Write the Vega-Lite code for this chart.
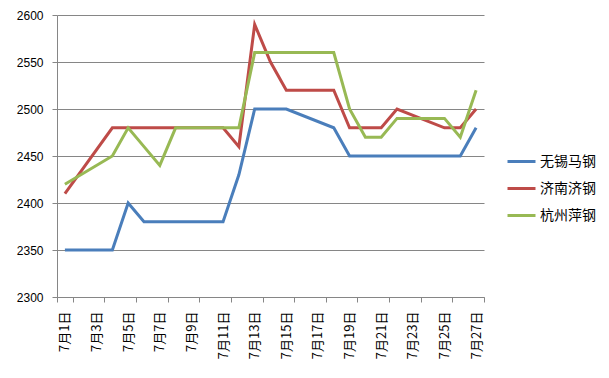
{
  "$schema": "https://vega.github.io/schema/vega-lite/v6.json",
  "width": 427,
  "height": 282,
  "autosize": "none",
  "padding": {"left": 57, "top": 15, "right": 125, "bottom": 81},
  "background": "white",
  "config": {"view": {"stroke": null}},
  "data": {"values": [
    {"date": "7月1日", "s": "无锡马钢", "v": 2350},
    {"date": "7月4日", "s": "无锡马钢", "v": 2350},
    {"date": "7月5日", "s": "无锡马钢", "v": 2400},
    {"date": "7月6日", "s": "无锡马钢", "v": 2380},
    {"date": "7月7日", "s": "无锡马钢", "v": 2380},
    {"date": "7月8日", "s": "无锡马钢", "v": 2380},
    {"date": "7月11日", "s": "无锡马钢", "v": 2380},
    {"date": "7月12日", "s": "无锡马钢", "v": 2430},
    {"date": "7月13日", "s": "无锡马钢", "v": 2500},
    {"date": "7月14日", "s": "无锡马钢", "v": 2500},
    {"date": "7月15日", "s": "无锡马钢", "v": 2500},
    {"date": "7月18日", "s": "无锡马钢", "v": 2480},
    {"date": "7月19日", "s": "无锡马钢", "v": 2450},
    {"date": "7月20日", "s": "无锡马钢", "v": 2450},
    {"date": "7月21日", "s": "无锡马钢", "v": 2450},
    {"date": "7月22日", "s": "无锡马钢", "v": 2450},
    {"date": "7月25日", "s": "无锡马钢", "v": 2450},
    {"date": "7月26日", "s": "无锡马钢", "v": 2450},
    {"date": "7月27日", "s": "无锡马钢", "v": 2480},
    {"date": "7月1日", "s": "济南济钢", "v": 2410},
    {"date": "7月4日", "s": "济南济钢", "v": 2480},
    {"date": "7月5日", "s": "济南济钢", "v": 2480},
    {"date": "7月6日", "s": "济南济钢", "v": 2480},
    {"date": "7月7日", "s": "济南济钢", "v": 2480},
    {"date": "7月8日", "s": "济南济钢", "v": 2480},
    {"date": "7月11日", "s": "济南济钢", "v": 2480},
    {"date": "7月12日", "s": "济南济钢", "v": 2460},
    {"date": "7月13日", "s": "济南济钢", "v": 2590},
    {"date": "7月14日", "s": "济南济钢", "v": 2550},
    {"date": "7月15日", "s": "济南济钢", "v": 2520},
    {"date": "7月18日", "s": "济南济钢", "v": 2520},
    {"date": "7月19日", "s": "济南济钢", "v": 2480},
    {"date": "7月20日", "s": "济南济钢", "v": 2480},
    {"date": "7月21日", "s": "济南济钢", "v": 2480},
    {"date": "7月22日", "s": "济南济钢", "v": 2500},
    {"date": "7月25日", "s": "济南济钢", "v": 2480},
    {"date": "7月26日", "s": "济南济钢", "v": 2480},
    {"date": "7月27日", "s": "济南济钢", "v": 2500},
    {"date": "7月1日", "s": "杭州萍钢", "v": 2420},
    {"date": "7月4日", "s": "杭州萍钢", "v": 2450},
    {"date": "7月5日", "s": "杭州萍钢", "v": 2480},
    {"date": "7月6日", "s": "杭州萍钢", "v": 2460},
    {"date": "7月7日", "s": "杭州萍钢", "v": 2440},
    {"date": "7月8日", "s": "杭州萍钢", "v": 2480},
    {"date": "7月11日", "s": "杭州萍钢", "v": 2480},
    {"date": "7月12日", "s": "杭州萍钢", "v": 2480},
    {"date": "7月13日", "s": "杭州萍钢", "v": 2560},
    {"date": "7月14日", "s": "杭州萍钢", "v": 2560},
    {"date": "7月15日", "s": "杭州萍钢", "v": 2560},
    {"date": "7月18日", "s": "杭州萍钢", "v": 2560},
    {"date": "7月19日", "s": "杭州萍钢", "v": 2500},
    {"date": "7月20日", "s": "杭州萍钢", "v": 2470},
    {"date": "7月21日", "s": "杭州萍钢", "v": 2470},
    {"date": "7月22日", "s": "杭州萍钢", "v": 2490},
    {"date": "7月25日", "s": "杭州萍钢", "v": 2490},
    {"date": "7月26日", "s": "杭州萍钢", "v": 2470},
    {"date": "7月27日", "s": "杭州萍钢", "v": 2520}
  ]},
  "mark": {"type": "line", "strokeWidth": 3},
  "encoding": {
    "x": {
      "field": "date", "type": "ordinal", "bandPosition": 0.5,
      "scale": {"type": "band", "paddingInner": 0, "paddingOuter": 0,
        "domain": ["7月1日","7月2日","7月3日","7月4日","7月5日","7月6日","7月7日","7月8日","7月9日","7月10日","7月11日","7月12日","7月13日","7月14日","7月15日","7月16日","7月17日","7月18日","7月19日","7月20日","7月21日","7月22日","7月23日","7月24日","7月25日","7月26日","7月27日"]},
      "axis": {
        "title": null,
        "values": ["7月1日","7月3日","7月5日","7月7日","7月9日","7月11日","7月13日","7月15日","7月17日","7月19日","7月21日","7月23日","7月25日","7月27日"],
        "tickBand": "extent",
        "labelAngle": -90,
        "labelFont": "Noto Sans CJK SC",
        "labelFontSize": 13,
        "labelColor": "#000000",
        "labelPadding": 9,
        "tickSize": 5,
        "tickColor": "#868686",
        "domainColor": "#868686",
        "grid": false
      }
    },
    "y": {
      "field": "v", "type": "quantitative",
      "scale": {"domain": [2300, 2600], "nice": false, "zero": false},
      "axis": {
        "title": null,
        "values": [2300, 2350, 2400, 2450, 2500, 2550, 2600],
        "format": "d",
        "grid": true,
        "gridColor": "#868686",
        "domainColor": "#868686",
        "tickColor": "#868686",
        "tickSize": 5,
        "labelPadding": 9,
        "labelFont": "Liberation Sans",
        "labelFontSize": 12,
        "labelColor": "#000000"
      }
    },
    "color": {
      "field": "s", "type": "nominal",
      "scale": {"domain": ["无锡马钢", "济南济钢", "杭州萍钢"], "range": ["#4A7EBB", "#BE4B48", "#98B954"]},
      "legend": {
        "title": null,
        "orient": "none",
        "legendX": 449,
        "legendY": 131,
        "symbolType": "stroke",
        "symbolSize": 784,
        "symbolStrokeWidth": 3,
        "labelFont": "Noto Sans CJK SC",
        "labelFontSize": 14,
        "labelColor": "#000000",
        "labelOffset": 3,
        "rowPadding": 4
      }
    }
  }
}
